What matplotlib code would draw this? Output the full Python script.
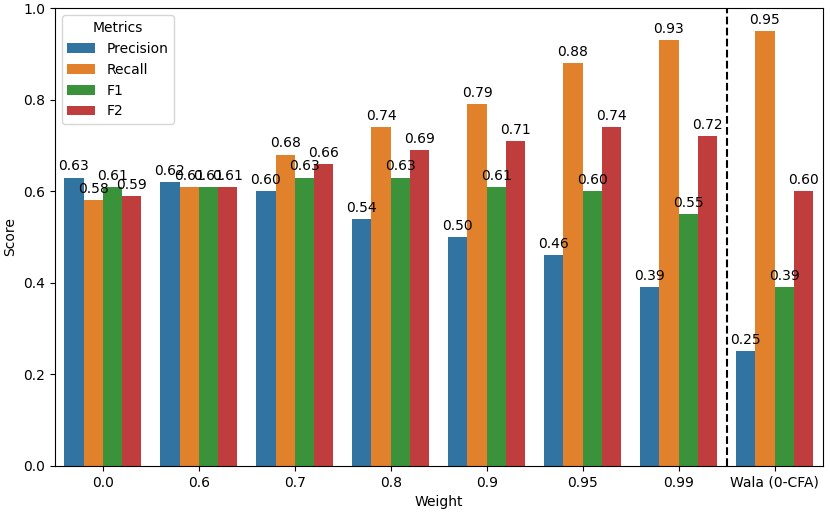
import matplotlib
matplotlib.use("Agg")
import matplotlib.pyplot as plt
import numpy as np

# Datos
weights = ['0.0', '0.6', '0.7', '0.8', '0.9', '0.95', '0.99', 'Wala (0-CFA)']
metrics = ['Precision', 'Recall', 'F1', 'F2']
precision = [0.63, 0.62, 0.60, 0.54, 0.50, 0.46, 0.39, 0.25]
recall = [0.58, 0.61, 0.68, 0.74, 0.79, 0.88, 0.93, 0.95]
f1 = [0.61, 0.61, 0.63, 0.63, 0.61, 0.60, 0.55, 0.39]
f2 = [0.59, 0.61, 0.66, 0.69, 0.71, 0.74, 0.72, 0.60]

series = [precision, recall, f1, f2]
colores = ['#3274a1', '#e1812c', '#3a923a', '#c03d3e']

fig, ax = plt.subplots(figsize=(8.3, 5.12), dpi=100)
x = np.arange(len(weights))
w = 0.2
for i, (nombre, vals) in enumerate(zip(metrics, series)):
    barras = ax.bar(x - 0.3 + i * w, vals, w, label=nombre, color=colores[i])
    ax.bar_label(barras, fmt='%.2f', padding=3, fontsize=10)

ax.axvline(6.5, color='black', linestyle='--', linewidth=1.5)
ax.set_xticks(x)
ax.set_xticklabels(weights)
ax.set_xlim(-0.5, 7.5)
ax.set_ylim(0, 1.0)
ax.set_xlabel('Weight')
ax.set_ylabel('Score')
ax.legend(title='Metrics', loc='upper left')

plt.subplots_adjust(left=0.066, right=0.991, top=0.984, bottom=0.09)
plt.savefig('out.png')
